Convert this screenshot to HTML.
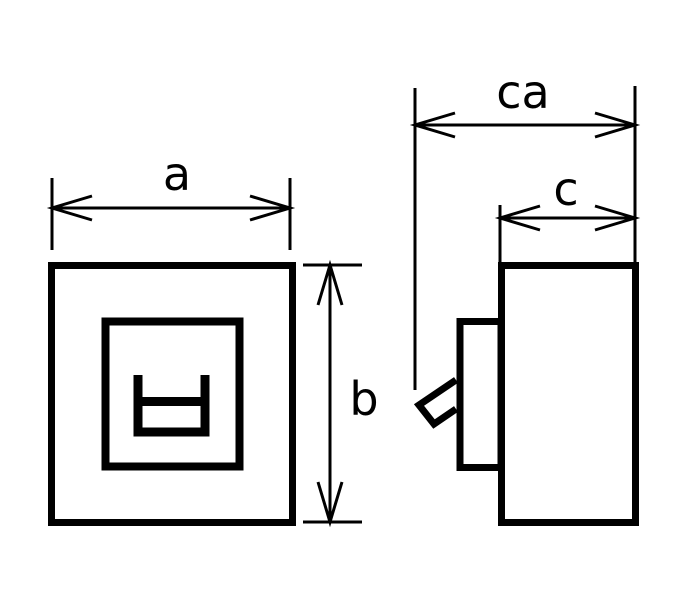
<!DOCTYPE html>
<html><head><style>body{margin:0;background:#fff}</style></head><body>
<svg width="694" height="586" viewBox="0 0 694 586" xmlns="http://www.w3.org/2000/svg">
<g fill="none" stroke="#000">
<rect x="51.5" y="265.5" width="241" height="257" stroke-width="7"/>
<rect x="105.5" y="321.5" width="134" height="145" stroke-width="8"/>
<path d="M138 375V432H205V375M138 401.5H205" stroke-width="9"/>
<rect x="501.5" y="265.5" width="134" height="257" stroke-width="7"/>
<rect x="460" y="321.5" width="41" height="146" stroke-width="7"/>
<path d="M456 380L419 405L434 424L456 409" stroke-width="7"/>
<g stroke-width="3">
<path d="M415 88V390M635 86V262M500 205V262M52 178V250M290 178V250M303 265H362M303 522H362"/>
<path d="M52 208H290M330 265V522M415 125H635M500 218H635"/>
<path d="M92 196L52 208L92 220M250 196L290 208L250 220"/>
<path d="M318 305L330 265L342 305M318 482L330 522L342 482"/>
<path d="M455 113L415 125L455 137M595 113L635 125L595 137"/>
<path d="M540 206L500 218L540 230M595 206L635 218L595 230"/>
</g></g>
<g font-family="'DejaVu Sans','Liberation Sans',sans-serif" font-size="46" fill="#000" text-anchor="middle">
<text x="177" y="190">a</text>
<text x="364" y="415">b</text>
<text x="523" y="108">ca</text>
<text x="566" y="205">c</text>
</g>
</svg>
</body></html>
